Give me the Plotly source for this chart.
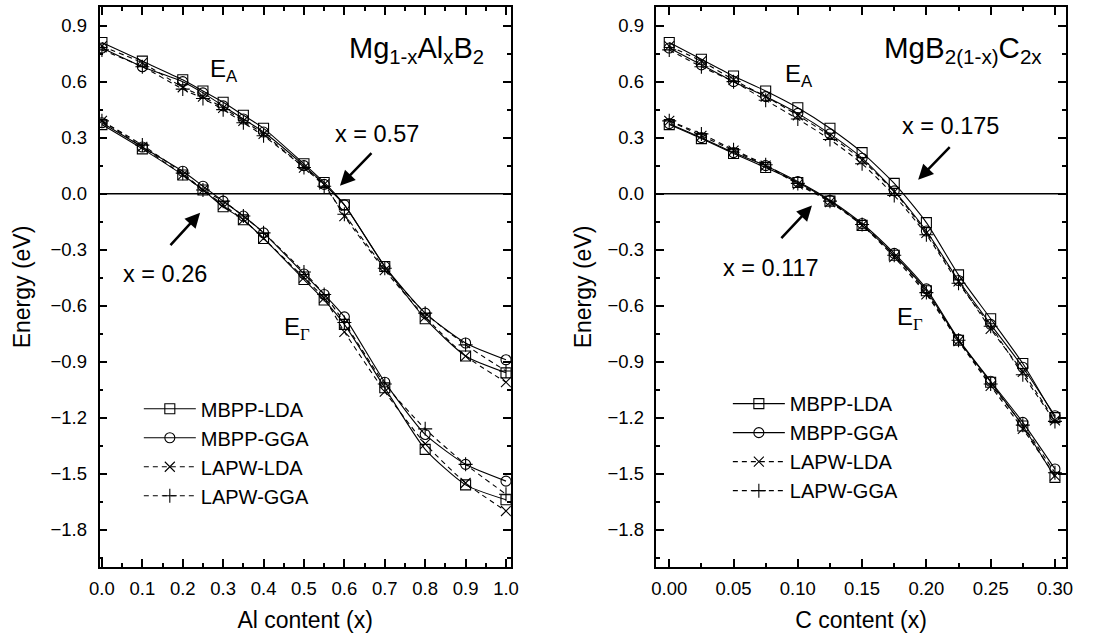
import plotly.graph_objects as go

# ---------------- data ----------------
x_al = [0, 0.1, 0.2, 0.25, 0.3, 0.35, 0.4, 0.5, 0.55, 0.6, 0.7, 0.8, 0.9, 1.0]
ea_al_mbpp_lda = [0.81, 0.71, 0.61, 0.55, 0.49, 0.42, 0.35, 0.16, 0.06, -0.06, -0.39, -0.67, -0.87, -0.96]
ea_al_mbpp_gga = [0.78, 0.68, 0.60, 0.54, 0.47, 0.40, 0.33, 0.15, 0.05, -0.06, -0.39, -0.64, -0.80, -0.89]
ea_al_lapw_lda = [0.79, 0.70, 0.57, 0.52, 0.46, 0.39, 0.32, 0.14, 0.05, -0.12, -0.41, -0.66, -0.87, -1.01]
ea_al_lapw_gga = [0.77, 0.68, 0.56, 0.51, 0.45, 0.38, 0.31, 0.14, 0.04, -0.11, -0.40, -0.64, -0.81, -0.95]
eg_al_mbpp_lda = [0.37, 0.24, 0.10, 0.02, -0.07, -0.14, -0.24, -0.46, -0.57, -0.70, -1.04, -1.37, -1.56, -1.64]
eg_al_mbpp_gga = [0.38, 0.25, 0.12, 0.04, -0.04, -0.12, -0.21, -0.43, -0.54, -0.66, -1.01, -1.29, -1.45, -1.54]
eg_al_lapw_lda = [0.39, 0.25, 0.10, 0.02, -0.06, -0.14, -0.24, -0.45, -0.56, -0.74, -1.06, -1.34, -1.55, -1.70]
eg_al_lapw_gga = [0.39, 0.26, 0.11, 0.02, -0.04, -0.12, -0.21, -0.42, -0.54, -0.69, -1.02, -1.26, -1.45, -1.61]

x_c = [0, 0.025, 0.05, 0.075, 0.1, 0.125, 0.15, 0.175, 0.2, 0.225, 0.25, 0.275, 0.3]
ea_c_mbpp_lda = [0.81, 0.72, 0.63, 0.55, 0.46, 0.35, 0.22, 0.055, -0.155, -0.435, -0.67, -0.91, -1.20]
ea_c_mbpp_gga = [0.78, 0.69, 0.60, 0.52, 0.43, 0.32, 0.19, 0.015, -0.20, -0.465, -0.70, -0.93, -1.19]
ea_c_lapw_lda = [0.79, 0.71, 0.61, 0.52, 0.42, 0.31, 0.18, 0.01, -0.21, -0.47, -0.725, -0.955, -1.215]
ea_c_lapw_gga = [0.77, 0.68, 0.60, 0.50, 0.40, 0.29, 0.16, -0.01, -0.22, -0.48, -0.71, -0.97, -1.22]
eg_c_mbpp_lda = [0.37, 0.295, 0.215, 0.14, 0.06, -0.04, -0.17, -0.33, -0.52, -0.785, -1.01, -1.245, -1.52]
eg_c_mbpp_gga = [0.375, 0.30, 0.22, 0.15, 0.065, -0.035, -0.16, -0.32, -0.51, -0.78, -1.005, -1.225, -1.475]
eg_c_lapw_lda = [0.39, 0.31, 0.23, 0.15, 0.05, -0.045, -0.17, -0.34, -0.54, -0.79, -1.03, -1.26, -1.51]
eg_c_lapw_gga = [0.39, 0.32, 0.235, 0.155, 0.055, -0.04, -0.165, -0.33, -0.53, -0.785, -1.02, -1.24, -1.495]

series_names = ["MBPP-LDA", "MBPP-GGA", "LAPW-LDA", "LAPW-GGA"]

# ---------------- styles ----------------
FONT = "Liberation Sans, Arial, sans-serif"
styles = {
    "MBPP-LDA": dict(symbol="square-open", dash="solid"),
    "MBPP-GGA": dict(symbol="circle-open", dash="solid"),
    "LAPW-LDA": dict(symbol="x-thin-open", dash="5px,4px"),
    "LAPW-GGA": dict(symbol="cross-thin-open", dash="5px,4px"),
}

fig = go.Figure()

panels = [
    ("x", "y", "legend", x_al,
     [ea_al_mbpp_lda, ea_al_mbpp_gga, ea_al_lapw_lda, ea_al_lapw_gga],
     [eg_al_mbpp_lda, eg_al_mbpp_gga, eg_al_lapw_lda, eg_al_lapw_gga]),
    ("x2", "y2", "legend2", x_c,
     [ea_c_mbpp_lda, ea_c_mbpp_gga, ea_c_lapw_lda, ea_c_lapw_gga],
     [eg_c_mbpp_lda, eg_c_mbpp_gga, eg_c_lapw_lda, eg_c_lapw_gga]),
]

for xa, ya, leg, xs, ea_list, eg_list in panels:
    for band_i, band in enumerate([ea_list, eg_list]):
        for name, ys in zip(series_names, band):
            st = styles[name]
            fig.add_trace(go.Scatter(
                x=xs, y=ys, name=name, xaxis=xa, yaxis=ya, legend=leg,
                mode="lines+markers",
                line=dict(color="black", width=1.1, dash=st["dash"], shape="spline", smoothing=0.6),
                marker=dict(symbol=st["symbol"], size=10, color="black",
                            line=dict(color="black", width=1.1)),
                showlegend=(band_i == 0),
            ))

axis_common = dict(
    showline=True, linecolor="black", linewidth=1.5, mirror="allticks",
    ticks="inside", ticklen=8, tickwidth=1.5, tickcolor="black",
    showgrid=False, zeroline=False,
    tickfont=dict(family=FONT, size=18.5, color="black"),
    title_font=dict(family=FONT, size=23, color="black"),
)

fig.update_layout(
    width=1119, height=635,
    margin=dict(l=0, r=0, t=0, b=0),
    paper_bgcolor="white", plot_bgcolor="white",
    showlegend=True,
    xaxis=dict(domain=[0.0813, 0.4549], range=[-0.006, 1.012], dtick=0.1, tickformat=".1f",
               minor=dict(dtick=0.05, ticks="inside", ticklen=4, tickwidth=1.5, tickcolor="black"),
               ticklabelstandoff=4,
               title=dict(text="Al content (x)", standoff=14), anchor="y", **axis_common),
    yaxis=dict(domain=[0.1071, 0.989], range=[-2.0, 1.0], tick0=0, dtick=0.3, tickformat=".1f",
               minor=dict(dtick=0.15, ticks="inside", ticklen=4, tickwidth=1.5, tickcolor="black"),
               ticklabelstandoff=7,
               title=dict(text="Energy (eV)", standoff=13), anchor="x", **axis_common),
    xaxis2=dict(domain=[0.5871, 0.9589], range=[-0.01, 0.3084], dtick=0.05, tickformat=".2f",
                minor=dict(dtick=0.025, ticks="inside", ticklen=4, tickwidth=1.5, tickcolor="black"),
                ticklabelstandoff=4,
                title=dict(text="C content (x)", standoff=14), anchor="y2", **axis_common),
    yaxis2=dict(domain=[0.1071, 0.989], range=[-2.0, 1.0], tick0=0, dtick=0.3, tickformat=".1f",
                minor=dict(dtick=0.15, ticks="inside", ticklen=4, tickwidth=1.5, tickcolor="black"),
                ticklabelstandoff=7,
                title=dict(text="Energy (eV)", standoff=9), anchor="x2", **axis_common),
    legend=dict(x=0.117, y=0.387, xanchor="left", yanchor="top", bgcolor="rgba(0,0,0,0)",
                font=dict(family=FONT, size=20, color="black"), itemwidth=52, tracegroupgap=0),
    legend2=dict(x=0.652, y=0.395, xanchor="left", yanchor="top", bgcolor="rgba(0,0,0,0)",
                 font=dict(family=FONT, size=20, color="black"), itemwidth=52, tracegroupgap=0),
)

# zero lines
for xr, yr in [("x domain", "y"), ("x2 domain", "y2")]:
    fig.add_shape(type="line", xref=xr, yref=yr, x0=0, x1=1, y0=0, y1=0,
                  line=dict(color="black", width=1.5))

def txt(text, x, y, xref, yref, size, xanchor="left"):
    fig.add_annotation(text=text, x=x, y=y, xref=xref, yref=yref, showarrow=False,
                       xanchor=xanchor, yanchor="middle",
                       font=dict(family=FONT, size=size, color="black"))

GAMMA = 'E<sub><span style="font-family:Liberation Serif, Times New Roman, serif">Γ</span></sub>'

# left panel texts
txt("Mg<sub>1-x</sub>Al<sub>x</sub>B<sub>2</sub>", 0.606, 0.77, "x", "y", 29)
txt("E<sub>A</sub>", 0.262, 0.66, "x", "y", 24)
txt(GAMMA, 0.445, -0.725, "x", "y", 24)
txt("x = 0.57", 0.681, 0.321, "x", "y", 23.5, "center")
txt("x = 0.26", 0.156, -0.428, "x", "y", 23.5, "center")
# right panel texts
txt("MgB<sub>2(1-x)</sub>C<sub>2x</sub>", 0.1655, 0.77, "x2", "y2", 29.5)
txt("E<sub>A</sub>", 0.0885, 0.632, "x2", "y2", 24)
txt(GAMMA, 0.1755, -0.668, "x2", "y2", 24)
txt("x = 0.175", 0.219, 0.364, "x2", "y2", 23.5, "center")
txt("x = 0.117", 0.0788, -0.396, "x2", "y2", 23.5, "center")

def arrow(x, y, ax, ay, xref, yref):
    fig.add_annotation(text="", x=x, y=y, ax=ax, ay=ay, xref=xref, yref=yref,
                       showarrow=True, arrowhead=2, arrowsize=1.2, arrowwidth=2.5,
                       arrowcolor="black", standoff=0)

arrow(0.589, 0.043, 33, -34, "x", "y")
arrow(0.243, -0.102, -31, 34, "x", "y")
arrow(0.1936, 0.075, 33, -34, "x2", "y2")
arrow(0.111, -0.064, -32, 34, "x2", "y2")

fig.write_html("out.html")
